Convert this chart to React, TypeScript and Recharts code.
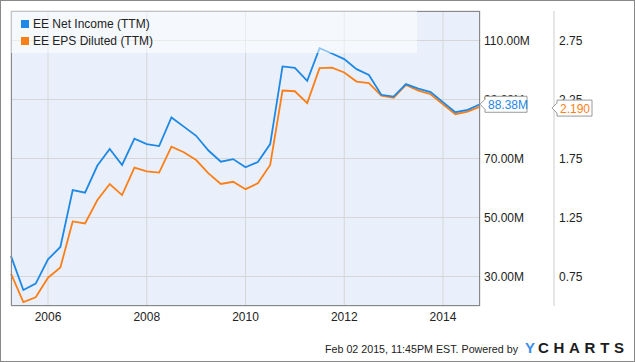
import { LineChart, Line, XAxis, YAxis, CartesianGrid } from 'recharts';

// quarterly TTM figures, Q1 2005 .. Q3 2014
const quarters = [
  2005.25, 2005.5, 2005.75, 2006, 2006.25, 2006.5, 2006.75, 2007, 2007.25, 2007.5,
  2007.75, 2008, 2008.25, 2008.5, 2008.75, 2009, 2009.25, 2009.5, 2009.75, 2010,
  2010.25, 2010.5, 2010.75, 2011, 2011.25, 2011.5, 2011.75, 2012, 2012.25, 2012.5,
  2012.75, 2013, 2013.25, 2013.5, 2013.75, 2014, 2014.25, 2014.5, 2014.75,
];

const netIncome = [
  36.9, 25.4, 27.6, 35.8, 40.0, 59.3, 58.4, 67.6, 73.2, 67.8,
  76.7, 74.9, 74.2, 83.9, 80.8, 77.7, 72.7, 68.9, 69.8, 67.0,
  68.8, 74.9, 101.2, 100.7, 96.3, 107.4, 105.6, 103.7, 100.3, 98.3,
  91.6, 91.0, 95.2, 93.7, 92.5, 89.1, 85.7, 86.5, 88.38,
];

const epsDiluted = [
  0.775, 0.534, 0.574, 0.74, 0.826, 1.217, 1.2, 1.398, 1.534, 1.44,
  1.672, 1.641, 1.63, 1.85, 1.803, 1.737, 1.624, 1.534, 1.553, 1.49,
  1.54, 1.695, 2.326, 2.32, 2.219, 2.516, 2.52, 2.479, 2.402, 2.388,
  2.283, 2.264, 2.374, 2.326, 2.295, 2.21, 2.125, 2.148, 2.19,
];

const yearTicks = [2006, 2008, 2010, 2012, 2014];
const incomeTicks = [30, 50, 70, 90, 110];
const epsTicks = [0.75, 1.25, 1.75, 2.25, 2.75];

const BLUE = '#1e88e5';
const ORANGE = '#fa7f17';
const FONT = '"Liberation Sans", Arial, sans-serif';

const data = quarters.map((t, i) => ({ t, ni: netIncome[i], eps: epsDiluted[i] }));
const last = data.length - 1;

// little flag with a notch pointing at the last value
const makeCallout = (color: string, boxX: number, boxW: number, text: string, dy = 0) =>
  (props: any) => {
    if (props.index !== last) return null;
    const cy = props.y + dy;
    const tip = boxX - 5;
    const top = cy - 8;
    const bottom = cy + 8;
    return (
      <g>
        <path
          d={`M${tip},${cy} L${boxX},${cy - 5} L${boxX},${top} L${boxX + boxW},${top} L${boxX + boxW},${bottom} L${boxX},${bottom} L${boxX},${cy + 5} Z`}
          fill="#fff"
          stroke="#999"
          strokeWidth={1}
        />
        <text x={boxX + 3} y={cy + 4.5} fill={color} fontSize={12} fontFamily={FONT}>
          {text}
        </text>
      </g>
    );
  };

export default function App() {
  return (
    <div style={{ position: 'absolute', left: 0, top: 0, width: 635, height: 362, background: '#fff', fontFamily: FONT }}>
      <LineChart width={635} height={362} data={data} margin={{ top: 11, right: 0, bottom: 0, left: 11 }}>
        <CartesianGrid yAxisId="a_ni" fill="#eaf0fb" stroke="#d6d6d6" strokeWidth={1} />
        <XAxis
          dataKey="t"
          type="number"
          domain={[2005.25, 2014.75]}
          ticks={yearTicks}
          height={56}
          axisLine={false}
          tickLine={false}
          tickSize={0}
          tickMargin={6}
          tick={{ fill: '#222', fontSize: 12, fontFamily: FONT }}
        />
        <YAxis
          yAxisId="a_ni"
          orientation="right"
          width={74}
          domain={[20, 120]}
          ticks={incomeTicks}
          tickFormatter={(v: number) => `${v.toFixed(2)}M`}
          axisLine={false}
          tickLine={false}
          tickSize={0}
          tickMargin={4}
          tick={{ fill: '#222', fontSize: 12, fontFamily: FONT }}
        />
        <YAxis
          yAxisId="b_eps"
          orientation="right"
          width={81}
          domain={[0.5, 3.0]}
          ticks={epsTicks}
          tickFormatter={(v: number) => v.toFixed(2)}
          axisLine={{ stroke: '#cccccc' }}
          tickLine={false}
          tickSize={0}
          tickMargin={5}
          tick={{ fill: '#222', fontSize: 12, fontFamily: FONT }}
        />
        <Line
          yAxisId="b_eps"
          dataKey="eps"
          type="linear"
          stroke={ORANGE}
          strokeWidth={1.8}
          dot={false}
          isAnimationActive={false}
          label={makeCallout(ORANGE, 557, 35, '2.190', 1.5)}
        />
        <Line
          yAxisId="a_ni"
          dataKey="ni"
          type="linear"
          stroke={BLUE}
          strokeWidth={1.8}
          dot={false}
          isAnimationActive={false}
          label={makeCallout(BLUE, 485, 42, '88.38M')}
        />
      </LineChart>

      {/* plot frame */}
      <div style={{ position: 'absolute', left: 10.5, top: 10.5, width: 469, height: 295, border: '1px solid #888', boxSizing: 'border-box', pointerEvents: 'none' }} />

      {/* legend */}
      <div style={{ position: 'absolute', left: 11, top: 11, width: 406, height: 42, background: 'rgba(255,255,255,0.5)', fontSize: 12, color: '#222' }}>
        <div style={{ position: 'absolute', left: 10, top: 9, width: 8, height: 8, background: BLUE }} />
        <div style={{ position: 'absolute', left: 22, top: 5, lineHeight: '16px', whiteSpace: 'nowrap' }}>EE Net Income (TTM)</div>
        <div style={{ position: 'absolute', left: 10, top: 26, width: 8, height: 8, background: ORANGE }} />
        <div style={{ position: 'absolute', left: 22, top: 22, lineHeight: '16px', whiteSpace: 'nowrap' }}>EE EPS Diluted (TTM)</div>
      </div>

      {/* footer */}
      <svg width={635} height={362} style={{ position: 'absolute', left: 0, top: 0, pointerEvents: 'none' }}>
        <text x={325} y={353} fontSize={11.5} fill="#222" fontFamily={FONT} textLength={193} lengthAdjust="spacingAndGlyphs">
          Feb 02 2015, 11:45PM EST. Powered by
        </text>
        <text x={525} y={353} fontSize={15} fontWeight="bold" fill="#3d8ee8" fontFamily={FONT}>Y</text>
        <text x={538} y={353} fontSize={15} fontWeight="bold" fill="#1c1c1c" fontFamily={FONT} textLength={86} lengthAdjust="spacing">
          CHARTS
        </text>
        <rect x={0.5} y={0.5} width={634} height={361} fill="none" stroke="#888" />
      </svg>
    </div>
  );
}
